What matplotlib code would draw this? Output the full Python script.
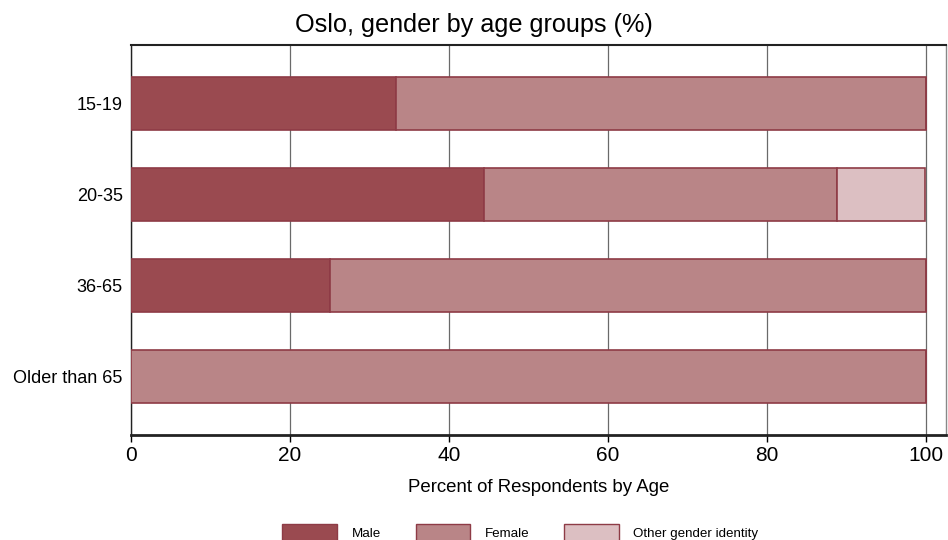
import matplotlib
matplotlib.use('Agg')
import matplotlib.pyplot as plt
from matplotlib.patches import Patch

# data
age_groups = ['15-19', '20-35', '36-65', 'Older than 65']
male = [33.3, 44.4, 25.0, 0.0]
female = [66.7, 44.4, 75.0, 100.0]
other = [0.0, 11.1, 0.0, 0.0]

series_names = ['Male', 'Female', 'Other gender identity']
colours = ['#9a4a50', '#b98587', '#dcbfc2']
EDGE = '#8e3b46'

plt.rcParams['font.family'] = ['Liberation Sans', 'DejaVu Sans']

fig = plt.figure(figsize=(9.48, 5.4), dpi=100)
ax = fig.add_axes([131 / 948, 1 - 435 / 540, (946 - 131) / 948, (435 - 45) / 540])

ypos = list(range(len(age_groups)))
left = [0.0] * len(age_groups)
for vals, name, col in zip([male, female, other], series_names, colours):
    ax.barh(ypos, vals, left=left, height=0.58, color=col, edgecolor=EDGE,
            linewidth=1.2, label=name, zorder=3)
    left = [l + v for l, v in zip(left, vals)]

ax.set_xlim(0, (946 - 131) / 7.95)
ax.set_ylim(3.64, -0.64)
ax.set_yticks(ypos)
ax.set_yticklabels(age_groups, fontsize=13)
ax.set_xticks([0, 20, 40, 60, 80, 100])
ax.tick_params(axis='x', labelsize=15, length=5, width=1, pad=3)
ax.tick_params(axis='y', length=0, pad=6)

ax.grid(axis='x', color='#6a6a6a', linewidth=0.9, zorder=0)
for s in ['left', 'bottom', 'top']:
    ax.spines[s].set_color('#222222')
ax.spines['bottom'].set_linewidth(2.0)
ax.spines['top'].set_linewidth(1.5)
ax.spines['left'].set_linewidth(1.0)
ax.spines['right'].set_color('#888888')
ax.spines['right'].set_linewidth(1.0)

ax.set_xlabel('Percent of Respondents by Age', fontsize=13.4, labelpad=10)
fig.text(0.5, 1 - 32 / 540, 'Oslo, gender by age groups (%)', fontsize=18.2,
         ha='center', va='baseline')

handles = [Patch(facecolor=c, edgecolor=EDGE, linewidth=1.0) for c in colours]
fig.legend(handles, series_names, loc='center', bbox_to_anchor=(0.549, 1 - 533 / 540),
           ncol=3, frameon=False, fontsize=9.6, handlelength=4.1, handleheight=1.7,
           columnspacing=2.6, handletextpad=1.1, borderpad=0)

fig.savefig('out.png', dpi=100)
